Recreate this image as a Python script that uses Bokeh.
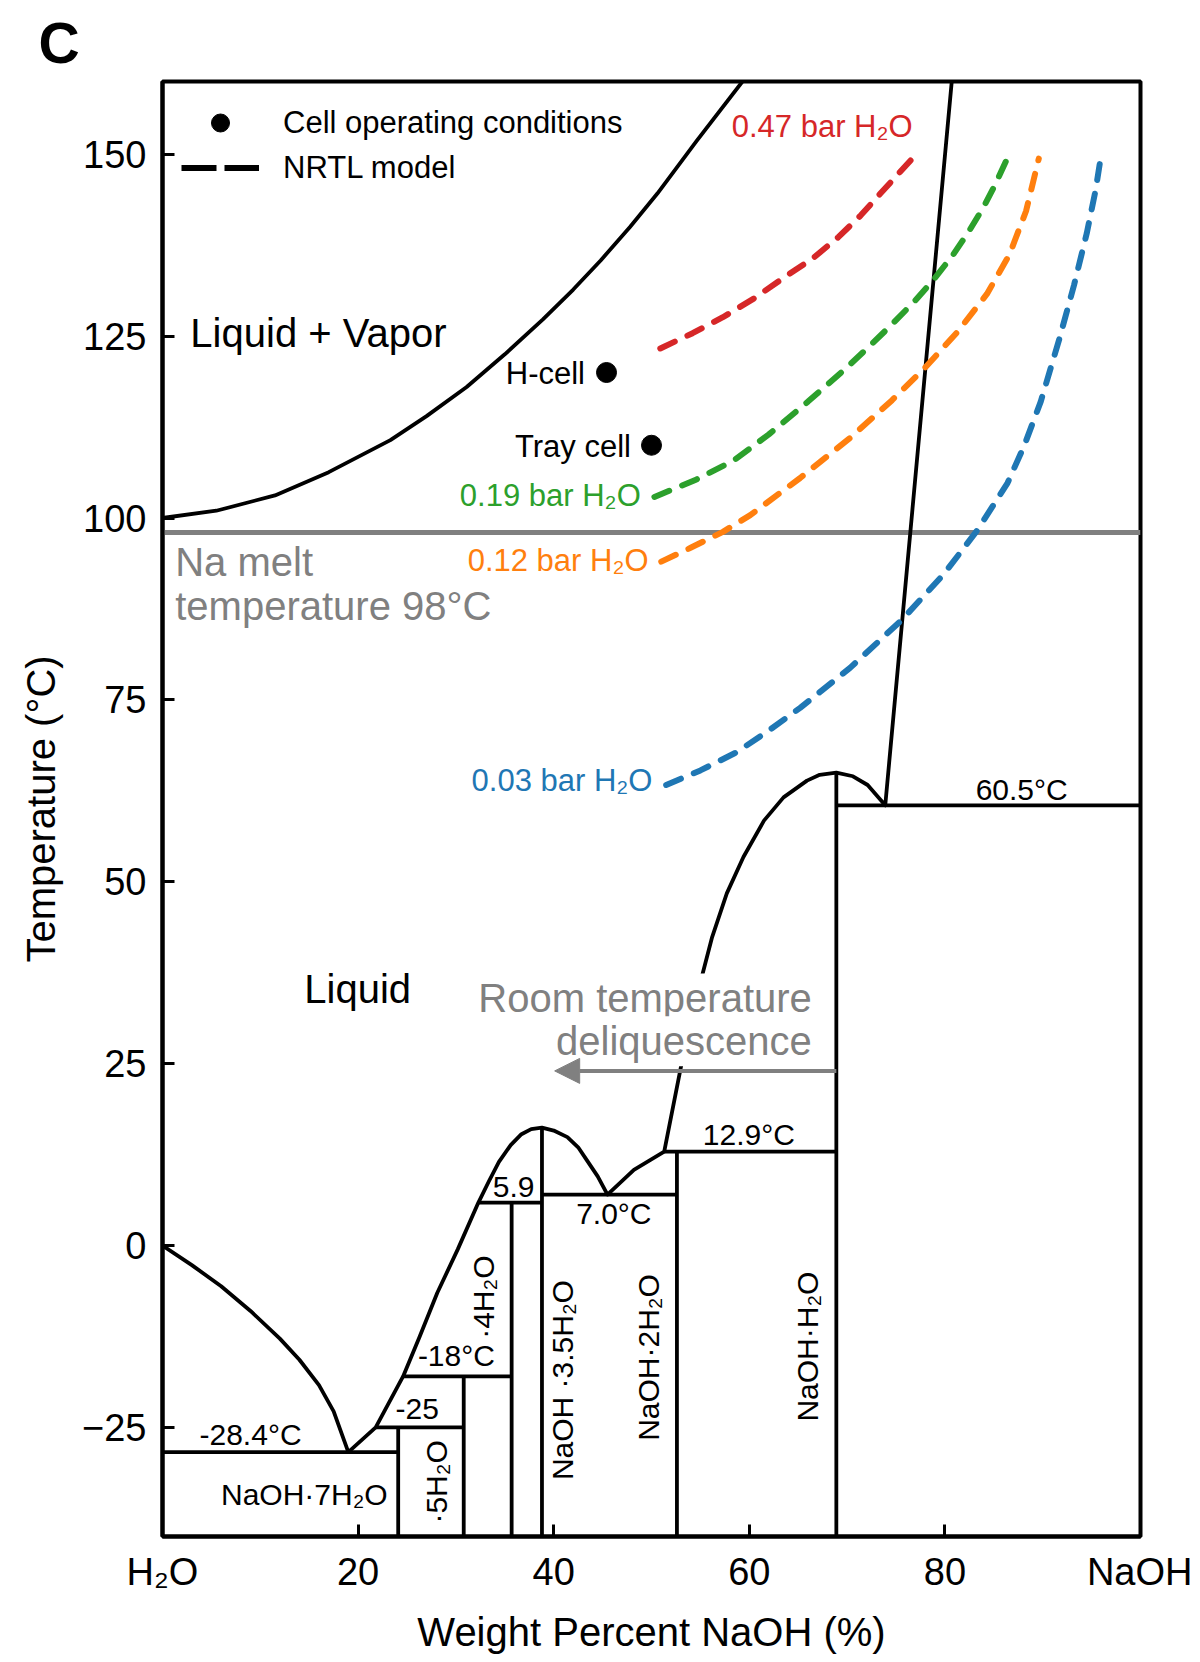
import math
from bokeh.plotting import figure
from bokeh.models import Label, Legend, LegendItem, Arrow, NormalHead, FixedTicker, Range1d
from bokeh.embed import file_html
from bokeh.resources import INLINE

FONT = "Liberation Sans"
GRAY = "#808080"

# ---------------- data ----------------
x_ticks = [0, 20, 40, 60, 80, 100]
x_tick_text = ["H₂O", "20", "40", "60", "80", "NaOH"]
t_ticks = [-25, 0, 25, 50, 75, 100, 125, 150]
t_tick_text = ["−25", "0", "25", "50", "75", "100", "125", "150"]
X_MIN, X_MAX = 0, 100
T_MIN, T_MAX = -40, 160

# boiling curve (liquid / liquid + vapor)
boil_x = [0.0, 5.5, 11.5, 17.0, 23.3, 27.0, 31.1, 35.0, 38.9, 42.0, 44.8, 47.8, 50.6, 54.6, 59.3]
boil_t = [100.0, 101.0, 103.1, 106.3, 110.7, 114.0, 118.0, 122.5, 127.3, 131.4, 135.4, 140.0, 144.6, 151.8, 160.0]

# liquidus (ice -> hydrates -> anhydrous NaOH)
liq_x = [0.0, 3.0, 6.0, 9.0, 12.0, 14.0, 16.0, 17.5, 19.0,
         21.8, 24.6, 26.3, 28.1, 30.2, 32.3, 33.4, 34.4, 35.6, 36.7, 37.7, 38.8, 40.0,
         41.4, 42.5, 43.4, 44.5, 45.5, 48.2, 51.3, 53.0, 55.1, 56.2, 57.7, 59.4, 61.5,
         63.5, 65.9, 67.2, 68.9, 70.6, 72.1, 73.9, 80.7]
liq_t = [0.0, -2.7, -5.6, -9.0, -12.8, -15.7, -19.2, -22.8, -28.4,
         -25.0, -18.0, -12.5, -6.5, -0.5, 5.9, 8.9, 11.5, 13.8, 15.3, 16.0, 16.2, 15.8,
         14.9, 13.5, 11.7, 9.5, 7.0, 10.4, 12.9, 24.5, 36.7, 42.4, 48.4, 53.4, 58.4,
         61.6, 63.9, 64.7, 65.0, 64.5, 63.3, 60.5, 160.0]

# invariant (horizontal) lines
iso_t = [-28.4, -25.0, -18.0, 5.9, 7.0, 12.9, 60.5]
iso_x_start = [0.0, 21.8, 24.6, 32.3, 38.8, 51.3, 68.9]
iso_x_end = [24.1, 30.8, 35.7, 38.8, 52.6, 68.9, 100.0]

# hydrate compositions (vertical lines)
hyd_x = [24.1, 30.8, 35.7, 38.8, 52.6, 68.9]
hyd_t_top = [-25.0, -18.0, 5.9, 16.2, 12.9, 65.0]

na_melt_t = 98.0

# NRTL model curves
p003_x = [51.5, 55.0, 58.7, 62.0, 65.2, 70.3, 75.6, 79.9, 83.3, 86.4, 88.1, 89.8, 91.7, 93.2, 94.5, 95.4, 96.0]
p003_t = [63.3, 65.3, 67.8, 70.8, 73.9, 79.4, 86.0, 92.3, 98.3, 104.8, 109.9, 116.0, 124.6, 132.0, 139.1, 145.0, 150.1]
p012_x = [51.0, 54.0, 57.3, 60.1, 65.2, 70.3, 74.6, 78.0, 81.3, 84.3, 86.6, 88.3, 89.6]
p012_t = [94.0, 95.9, 98.1, 100.4, 105.5, 111.0, 116.2, 120.7, 125.6, 130.8, 136.2, 142.2, 149.4]
p019_x = [50.3, 54.6, 58.4, 62.0, 66.0, 69.9, 72.2, 74.5, 76.9, 78.8, 80.8, 82.4, 83.9, 85.1, 86.3]
p019_t = [102.9, 105.3, 107.9, 111.5, 116.0, 120.6, 123.5, 126.5, 129.8, 132.7, 136.1, 139.3, 142.6, 145.7, 149.2]
p047_x = [50.9, 54.2, 57.3, 60.5, 63.6, 66.5, 69.1, 71.4, 73.4, 75.1, 76.6]
p047_t = [123.3, 125.4, 127.6, 130.2, 133.1, 135.7, 138.6, 141.6, 144.6, 147.1, 149.3]

# cell operating conditions
cell_names = ["H-cell", "Tray cell"]
cell_x = [45.4, 50.0]
cell_t = [120.0, 110.0]

# room temperature deliquescence arrow
deliq_t = 24.0
deliq_x_from = 68.9
deliq_x_to = 40.1

# ---------------- figure ----------------
FRAME_W, FRAME_H = 978, 1455
PX_PER_T = FRAME_H / (T_MAX - T_MIN)

p = figure(frame_width=FRAME_W, frame_height=FRAME_H,
           x_range=Range1d(X_MIN, X_MAX), y_range=Range1d(T_MIN, T_MAX),
           output_backend="svg", toolbar_location=None,
           min_border_left=162, min_border_right=52, min_border_top=81, min_border_bottom=118,
           x_axis_label="Weight Percent NaOH (%)", y_axis_label="Temperature (°C)")
p.xgrid.visible = False
p.ygrid.visible = False
p.outline_line_color = "black"
p.outline_line_width = 4
p.outline_line_alpha = 1.0

p.title.text = "C"
p.title.text_font = FONT
p.title.text_font_size = "57px"
p.title.text_font_style = "bold"
p.title.text_color = "black"
p.title.align = "left"
p.title.offset = -124
p.title.standoff = 14

p.xaxis.ticker = FixedTicker(ticks=x_ticks)
p.xaxis.major_label_overrides = dict(zip(x_ticks, x_tick_text))
p.yaxis.ticker = FixedTicker(ticks=t_ticks)
p.yaxis.major_label_overrides = dict(zip(t_ticks, t_tick_text))
for ax in (p.xaxis[0], p.yaxis[0]):
    ax.axis_line_width = 4
    ax.axis_line_color = "black"
    ax.major_tick_in = 12
    ax.major_tick_out = 0
    ax.major_tick_line_width = 3
    ax.major_tick_line_color = "black"
    ax.minor_tick_line_color = None
    ax.major_label_text_font = FONT
    ax.major_label_text_font_size = "38px"
    ax.major_label_text_color = "black"
    ax.axis_label_text_font = FONT
    ax.axis_label_text_font_size = "40px"
    ax.axis_label_text_font_style = "normal"
    ax.axis_label_text_color = "black"
p.xaxis.major_label_standoff = 14
p.xaxis.axis_label_standoff = 14
p.yaxis.major_label_standoff = 16
p.yaxis.axis_label_standoff = 16

# Na melt line
p.segment(x0=[X_MIN], y0=[na_melt_t], x1=[X_MAX], y1=[na_melt_t], line_color=GRAY, line_width=5)

# phase boundaries
LW = 3.8
p.line(boil_x, boil_t, line_color="black", line_width=LW, line_join="round")
p.line(liq_x, liq_t, line_color="black", line_width=LW, line_join="round")
p.segment(x0=iso_x_start, y0=iso_t, x1=iso_x_end, y1=iso_t, line_color="black", line_width=LW)
p.segment(x0=hyd_x, y0=[T_MIN] * len(hyd_x), x1=hyd_x, y1=hyd_t_top, line_color="black", line_width=LW)

# NRTL curves
DASH = "16 14"
curves = [(p003_x, p003_t, "#1f77b4"), (p012_x, p012_t, "#ff7f0e"),
          (p019_x, p019_t, "#2ca02c"), (p047_x, p047_t, "#d62728")]
for cx, ct, col in curves:
    p.line(cx, ct, line_color=col, line_width=6, line_dash=DASH, line_join="round", line_cap="round")

pts = p.scatter(cell_x, cell_t, size=20, color="black")
legend_line = p.line([float("nan")], [float("nan")], line_color="black", line_width=6, line_dash="35 8")

legend = Legend(items=[LegendItem(label="Cell operating conditions", renderers=[pts]),
                       LegendItem(label="NRTL model", renderers=[legend_line])],
                location="top_left", margin=0, padding=19, spacing=0,
                glyph_width=78, glyph_height=45, label_height=45, label_standoff=24,
                label_text_font=FONT, label_text_font_size="31px", label_text_color="black",
                background_fill_alpha=0, border_line_alpha=0)
p.add_layout(legend)


def lab(x, y, text, size, color="black", align="left", angle=0.0, bg=None, rotated=False):
    """y is the text baseline (data units) for horizontal labels; centre for rotated ones."""
    kw = {}
    if bg is not None:
        kw = dict(background_fill_color=bg, background_fill_alpha=1.0, padding=3)
    if rotated:
        yy = y
    else:
        yy = y + 0.32 * size / PX_PER_T
    p.add_layout(Label(x=x, y=yy, text=text, text_font=FONT, text_font_size=f"{size}px",
                       text_color=color, text_align=align, text_baseline="middle",
                       angle=angle, **kw))


# region labels
lab(2.85, 123.7, "Liquid + Vapor", 40)
lab(14.5, 33.5, "Liquid", 40)
lab(1.3, 92.2, "Na melt", 40, color=GRAY)
lab(1.3, 86.1, "temperature 98°C", 40, color=GRAY)
lab(66.7, 32.2, "Room temperature", 40, color=GRAY, align="right", bg="white")
lab(66.7, 26.3, "deliquescence", 40, color=GRAY, align="right", bg="white")

# curve labels
lab(76.7, 152.4, "0.47 bar H₂O", 31, color="#d62728", align="right")
lab(48.9, 101.7, "0.19 bar H₂O", 31, color="#2ca02c", align="right")
lab(49.7, 92.8, "0.12 bar H₂O", 31, color="#ff7f0e", align="right")
lab(50.1, 62.6, "0.03 bar H₂O", 31, color="#1f77b4", align="right")

# cell labels
lab(43.2, 118.5, cell_names[0], 31, align="right")
lab(47.9, 108.4, cell_names[1], 31, align="right")

# invariant temperatures
lab(9.0, -27.3, "-28.4°C", 30, align="center")
lab(14.5, -35.5, "NaOH·7H₂O", 30, align="center")
lab(26.05, -23.8, "-25", 30, align="center")
lab(30.05, -16.5, "-18°C", 30, align="center")
lab(35.9, 6.7, "5.9", 30, align="center")
lab(46.15, 3.1, "7.0°C", 30, align="center")
lab(59.95, 14.0, "12.9°C", 30, align="center")
lab(87.85, 61.4, "60.5°C", 30, align="center")

# hydrate labels (vertical)
V = math.pi / 2
lab(28.0, -32.5, "·5H₂O", 30, align="center", angle=V, rotated=True)
lab(32.8, -7.1, "·4H₂O", 30, align="center", angle=V, rotated=True)
lab(40.9, -18.5, "NaOH ·3.5H₂O", 30, align="center", angle=V, rotated=True)
lab(49.7, -15.4, "NaOH·2H₂O", 30, align="center", angle=V, rotated=True)
lab(66.0, -13.9, "NaOH·H₂O", 30, align="center", angle=V, rotated=True)

p.add_layout(Arrow(end=NormalHead(size=25, fill_color=GRAY, line_color=GRAY),
                   x_start=deliq_x_from, y_start=deliq_t, x_end=deliq_x_to, y_end=deliq_t,
                   line_color=GRAY, line_width=4))

open("out.html", "w").write(file_html(p, INLINE))
